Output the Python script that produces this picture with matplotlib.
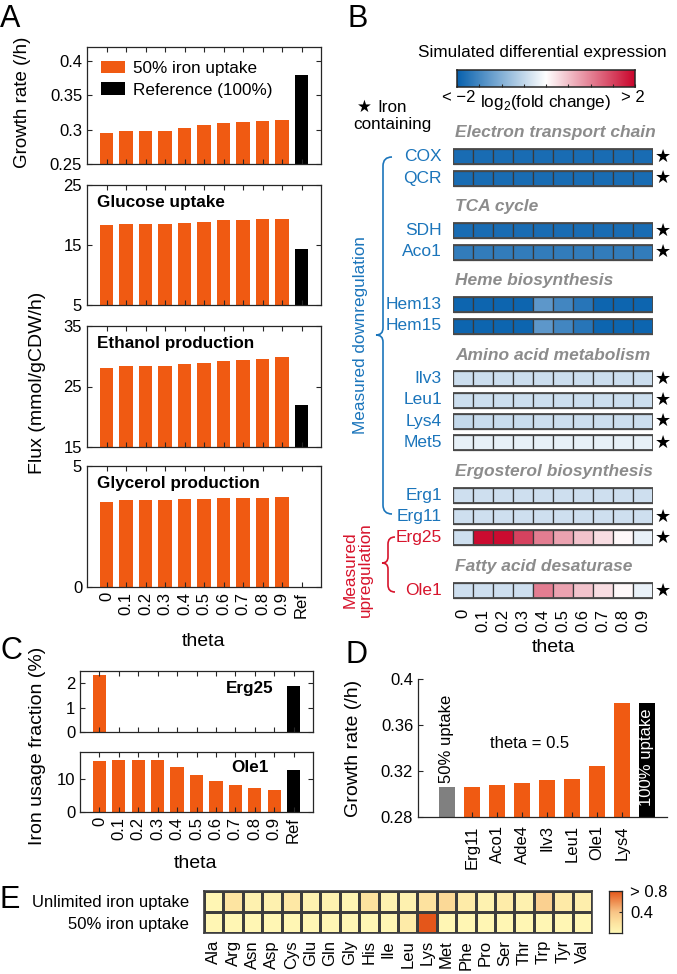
import numpy as np
import matplotlib
matplotlib.use('Agg')
import matplotlib.pyplot as plt
from matplotlib.patches import Rectangle, PathPatch
from matplotlib.path import Path
from matplotlib.colors import LinearSegmentedColormap

plt.rcParams['font.family'] = ['Liberation Sans', 'DejaVu Sans']
plt.rcParams['font.size'] = 12
plt.rcParams['mathtext.fontset'] = 'custom'
plt.rcParams['mathtext.rm'] = 'Liberation Sans'

# ---------------- data ----------------
theta_labels = ['0', '0.1', '0.2', '0.3', '0.4', '0.5', '0.6', '0.7', '0.8', '0.9']
bar_labels = theta_labels + ['Ref']

growth_50 = [0.295, 0.298, 0.298, 0.298, 0.302, 0.306, 0.309, 0.311, 0.312, 0.314]
growth_ref = 0.379
glucose_50 = [18.3, 18.5, 18.5, 18.5, 18.7, 18.9, 19.1, 19.2, 19.3, 19.4]
glucose_ref = 14.3
ethanol_50 = [28.1, 28.4, 28.4, 28.4, 28.7, 28.9, 29.2, 29.4, 29.6, 29.8]
ethanol_ref = 22.0
glycerol_50 = [3.53, 3.58, 3.58, 3.58, 3.62, 3.63, 3.66, 3.68, 3.69, 3.71]
glycerol_ref = 0.0

# Panel B: simulated log2 fold change per theta
b_groups = ['Electron transport chain', 'TCA cycle', 'Heme biosynthesis',
            'Amino acid metabolism', 'Ergosterol biosynthesis', 'Fatty acid desaturase']
b_genes = [['COX', 'QCR'], ['SDH', 'Aco1'], ['Hem13', 'Hem15'],
           ['Ilv3', 'Leu1', 'Lys4', 'Met5'], ['Erg1', 'Erg11', 'Erg25'], ['Ole1']]
b_iron = {'COX', 'QCR', 'SDH', 'Aco1', 'Ilv3', 'Leu1', 'Lys4', 'Met5', 'Erg11', 'Erg25', 'Ole1'}
b_up = {'Erg25', 'Ole1'}
b_fc = {
    'COX':   [-1.85] * 10,
    'QCR':   [-1.85] * 10,
    'SDH':   [-1.85] * 10,
    'Aco1':  [-1.65] * 10,
    'Hem13': [-1.95, -1.95, -1.95, -1.95, -1.3, -1.53, -1.74, -1.95, -1.95, -1.95],
    'Hem15': [-1.95, -1.95, -1.95, -1.95, -1.3, -1.53, -1.74, -1.95, -1.95, -1.95],
    'Ilv3':  [-0.42] * 10,
    'Leu1':  [-0.42] * 10,
    'Lys4':  [-0.48, -0.44, -0.44, -0.44, -0.42, -0.42, -0.42, -0.42, -0.42, -0.42],
    'Met5':  [-0.19] * 10,
    'Erg1':  [-0.4] * 10,
    'Erg11': [-0.4] * 10,
    'Erg25': [-0.4, 1.95, 1.95, 1.5, 1.04, 0.74, 0.47, 0.27, 0.06, -0.18],
    'Ole1':  [-0.4, -0.4, -0.4, -0.4, 1.04, 0.74, 0.47, 0.27, 0.05, -0.18],
}

# Panel C: iron usage fraction (%)
erg25_50 = [2.33, 0, 0, 0, 0, 0, 0, 0, 0, 0]
erg25_ref = 1.89
ole1_50 = [15.3, 15.6, 15.6, 15.6, 13.4, 11.0, 9.3, 8.1, 7.3, 6.5]
ole1_ref = 12.5

# Panel D
d_labels = ['50% uptake', 'Erg11', 'Aco1', 'Ade4', 'Ilv3', 'Leu1', 'Ole1', 'Lys4', '100% uptake']
d_values = [0.306, 0.3065, 0.3075, 0.3095, 0.312, 0.313, 0.324, 0.379, 0.379]

# Panel E
aa_labels = ['Ala', 'Arg', 'Asn', 'Asp', 'Cys', 'Glu', 'Gln', 'Gly', 'His', 'Ile',
             'Leu', 'Lys', 'Met', 'Phe', 'Pro', 'Ser', 'Thr', 'Trp', 'Tyr', 'Val']
e_rows = ['Unlimited iron uptake', '50% iron uptake']
e_unlimited = [0.02, 0.18, 0.06, 0.06, 0.15, 0.05, 0.05, 0.03, 0.2, 0.05,
               0.06, 0.2, 0.26, 0.12, 0.05, 0.11, 0.06, 0.32, 0.13, 0.09]
e_half = [0.02, 0.02, 0.02, 0.02, 0.02, 0.02, 0.02, 0.02, 0.02, 0.02,
          0.12, 0.85, 0.02, 0.02, 0.02, 0.02, 0.02, 0.02, 0.02, 0.02]

# ---------------- style ----------------
ORANGE = '#F05A12'
BLUE_T = '#1B75BB'
RED_T = '#D7142C'
GRAY_H = '#8C8C8C'
AX_C = '#262626'

W, H = 677, 974
fig = plt.figure(figsize=(W / 100, H / 100), dpi=100)


def add_ax(l, t, r, b):
    return fig.add_axes([l / W, 1 - b / H, (r - l) / W, (b - t) / H])


def matlab_box(ax):
    for s in ax.spines.values():
        s.set_linewidth(0.9)
        s.set_color(AX_C)
    ax.tick_params(direction='in', top=True, right=True, length=3.5, width=0.8,
                   colors=AX_C, labelcolor='black', labelsize=12)


def fmt(v):
    return f'{v:g}'


# ---------------- Panel A ----------------
xpos = np.arange(1, 12)
a_specs = [
    ((87, 47, 321, 164), growth_50, growth_ref, (0.25, 0.42), [0.25, 0.3, 0.35, 0.4], None),
    ((87, 185, 321, 305), glucose_50, glucose_ref, (5, 25), [5, 15, 25], 'Glucose uptake'),
    ((87, 326, 321, 447), ethanol_50, ethanol_ref, (15, 35), [15, 25, 35], 'Ethanol production'),
    ((87, 466, 321, 587), glycerol_50, glycerol_ref, (0, 5), [0, 5], 'Glycerol production'),
]
for i, (box, vals, ref, ylim, yt, title) in enumerate(a_specs):
    ax = add_ax(*box)
    b1 = ax.bar(xpos[:10], vals, width=0.68, color=ORANGE, label='50% iron uptake')
    b2 = ax.bar(xpos[10], ref, width=0.68, color='black', label='Reference (100%)')
    ax.set_xlim(0, 12)
    ax.set_ylim(*ylim)
    ax.set_yticks(yt)
    ax.set_yticklabels([fmt(v) for v in yt])
    ax.set_xticks(xpos)
    matlab_box(ax)
    if i == 3:
        ax.set_xticklabels(bar_labels, rotation=90)
    else:
        ax.set_xticklabels([])
    if title:
        ax.text(0.043, 0.855, title, transform=ax.transAxes, weight='bold',
                fontsize=12.3, va='center', ha='left')
    if i == 0:
        ax.legend(handles=[b1, b2], loc='upper left', frameon=False, fontsize=12.3,
                  handlelength=1.4, handleheight=0.75, handletextpad=0.5,
                  labelspacing=0.38, borderaxespad=0.45, borderpad=0.35)

# ---------------- Panel B ----------------
cmap_b = LinearSegmentedColormap.from_list(
    'bwr_m', [(0.0, (0.03, 0.38, 0.68)), (0.5, (1, 1, 1)), (1.0, (0.79, 0.02, 0.17))])
axb = add_ax(453, 125, 653, 605)
axb.set_xlim(0, 10)
axb.set_ylim(605, 125)
axb.axis('off')
cell_h = 15
cur = 133.0
for gname, genes in zip(b_groups, b_genes):
    axb.text(0.1, cur, gname, color=GRAY_H, weight='bold', style='italic',
             fontsize=12.5, ha='left', va='center')
    y = cur + 23.7
    for g in genes:
        vals = b_fc[g]
        for j, v in enumerate(vals):
            axb.add_patch(Rectangle((j, y - cell_h / 2), 1, cell_h,
                                    facecolor=cmap_b((v + 2) / 4), edgecolor='#3a3a3a',
                                    linewidth=0.9))
        axb.add_patch(Rectangle((0, y - cell_h / 2), 10, cell_h, fill=False,
                                edgecolor='#4a4a4a', linewidth=1.3))
        axb.text(-0.55, y, g, color=RED_T if g in b_up else BLUE_T,
                 fontsize=12.5, ha='right', va='center')
        if g in b_iron:
            axb.text(10.5, y, '★', fontsize=13, ha='center', va='center',
                     family='DejaVu Sans')
        last = y
        y += 21.3
    cur = last + 29.0
for j, lab in enumerate(theta_labels):
    axb.text(j + 0.5, 609, lab, rotation=90, ha='center', va='top', fontsize=12)

# colorbar B
cbb = add_ax(457, 70, 635, 87)
grad = np.linspace(-2, 2, 256).reshape(1, -1)
cbb.imshow(grad, cmap=cmap_b, vmin=-2, vmax=2, aspect='auto', extent=(-2, 2, 0, 1))
cbb.set_yticks([])
cbb.set_xticks(np.arange(-2, 2.01, 0.5))
cbb.set_xticklabels([])
cbb.tick_params(axis='x', direction='in', length=2.5, width=0.8, colors=AX_C)
for s in cbb.spines.values():
    s.set_linewidth(1.1)
    s.set_color(AX_C)

# ---------------- Panel C ----------------
axc1 = add_ax(80, 671, 313, 732)
axc1.bar(xpos[:10], erg25_50, width=0.68, color=ORANGE)
axc1.bar(xpos[10], erg25_ref, width=0.68, color='black')
axc1.set_xlim(0, 12)
axc1.set_ylim(0, 2.5)
axc1.set_yticks([0, 1, 2])
axc1.set_xticks(xpos)
axc1.set_xticklabels([])
matlab_box(axc1)
axc1.text(0.83, 0.72, 'Erg25', transform=axc1.transAxes, weight='bold',
          fontsize=12.3, ha='right', va='center')

axc2 = add_ax(80, 752, 313, 812)
axc2.bar(xpos[:10], ole1_50, width=0.68, color=ORANGE)
axc2.bar(xpos[10], ole1_ref, width=0.68, color='black')
axc2.set_xlim(0, 12)
axc2.set_ylim(0, 18)
axc2.set_yticks([0, 10])
axc2.set_xticks(xpos)
matlab_box(axc2)
axc2.set_xticklabels(bar_labels, rotation=90)
axc2.text(0.81, 0.75, 'Ole1', transform=axc2.transAxes, weight='bold',
          fontsize=12.3, ha='right', va='center')

# ---------------- Panel D ----------------
axd = add_ax(418, 679, 667, 817)
dpos = np.arange(1, len(d_values) + 1)
dcolors = ['#808080'] + [ORANGE] * 7 + ['black']
axd.bar(dpos, d_values, width=0.64, color=dcolors)
axd.set_xlim(-0.16, 9.8)
axd.set_ylim(0.28, 0.4)
yt = [0.28, 0.32, 0.36, 0.4]
axd.set_yticks(yt)
axd.set_yticklabels([fmt(v) for v in yt])
axd.set_xticks(dpos[1:-1])
axd.set_xticklabels(d_labels[1:-1], rotation=90)
axd.spines['top'].set_visible(False)
axd.spines['right'].set_visible(False)
for s in ['left', 'bottom']:
    axd.spines[s].set_linewidth(0.9)
    axd.spines[s].set_color(AX_C)
axd.tick_params(direction='in', length=3.5, width=0.8, colors=AX_C,
                labelcolor='black', labelsize=12)
axd.tick_params(axis='x', pad=6)
axd.annotate(d_labels[0], (dpos[0], d_values[0]), xytext=(0, 3), textcoords='offset points',
             rotation=90, ha='center', va='bottom', fontsize=12)
axd.annotate(d_labels[-1], (dpos[-1], d_values[-1]), xytext=(0, -4), textcoords='offset points',
             rotation=90, ha='center', va='top', fontsize=12, color='white')
axd.text(4.3, 0.3435, 'theta = 0.5', ha='center', va='center', fontsize=12)

# ---------------- Panel E ----------------
cmap_e = LinearSegmentedColormap.from_list(
    'ylor', [(0.0, '#FFF8B6'), (0.25, '#FDE29F'), (0.5, '#F8C486'), (1.0, '#E4561A')])
axe = add_ax(204, 891, 592, 933)
edata = np.array([e_unlimited, e_half])
axe.pcolormesh(np.arange(21), np.arange(3), edata, cmap=cmap_e, vmin=0, vmax=0.8,
               edgecolors='#3d3d3d', linewidth=0.9)
axe.set_xlim(0, 20)
axe.set_ylim(2, 0)
axe.set_xticks(np.arange(20) + 0.5)
axe.set_xticklabels(aa_labels, rotation=90, fontsize=12)
axe.set_yticks([0.5, 1.5])
axe.set_yticklabels(e_rows, fontsize=12)
axe.tick_params(length=0, pad=5)
axe.tick_params(axis='y', pad=11)
for s in axe.spines.values():
    s.set_linewidth(1.2)
    s.set_color('#3d3d3d')

cbe = add_ax(609, 891, 622, 933)
cbe.imshow(np.linspace(0, 0.8, 256).reshape(-1, 1), cmap=cmap_e, vmin=0, vmax=0.8,
           aspect='auto', origin='lower', extent=(0, 1, 0, 0.8))
cbe.set_xticks([])
cbe.yaxis.tick_right()
cbe.set_yticks([0.4, 0.8])
cbe.set_yticklabels(['0.4', '> 0.8'])
cbe.tick_params(axis='y', direction='in', length=2.5, width=0.8, colors=AX_C,
                labelcolor='black', labelsize=12, pad=6)
for s in cbe.spines.values():
    s.set_linewidth(0.9)
    s.set_color(AX_C)

# ---------------- overlay: labels, braces ----------------
ov = fig.add_axes([0, 0, 1, 1], zorder=10)
ov.set_xlim(0, W)
ov.set_ylim(H, 0)
ov.axis('off')
ov.patch.set_visible(False)

for letter, (x, y) in zip('ABCDE', [(0, 19), (347, 19), (0, 651), (346, 655), (0, 900)]):
    ov.text(x, y, letter, fontsize=22, ha='left', va='center')

ov.text(23, 102, 'Growth rate (/h)', rotation=90, ha='center', va='center', fontsize=13.5)
ov.text(38, 383, 'Flux (mmol/gCDW/h)', rotation=90, ha='center', va='center', fontsize=14)
ov.text(204, 641, 'theta', ha='center', va='center', fontsize=14)
ov.text(553, 648, 'theta', ha='center', va='center', fontsize=14)
ov.text(38, 746, 'Iron usage fraction (%)', rotation=90, ha='center', va='center', fontsize=14)
ov.text(196, 863, 'theta', ha='center', va='center', fontsize=14)
ov.text(354, 748, 'Growth rate (/h)', rotation=90, ha='center', va='center', fontsize=14)

ov.text(542, 53, 'Simulated differential expression', ha='center', va='center', fontsize=12.3)
ov.text(459, 98, '< −2', ha='center', va='center', fontsize=12)
ov.text(546, 103, r'log$_\mathregular{2}$(fold change)', ha='center', va='center', fontsize=12.3)
ov.text(633, 98, '> 2', ha='center', va='center', fontsize=12)
ov.text(357, 107, '★', ha='left', va='center', fontsize=12, family='DejaVu Sans')
ov.text(377, 107, 'Iron', ha='left', va='center', fontsize=12.3)
ov.text(353, 125, 'containing', ha='left', va='center', fontsize=12.3)

ov.text(360, 335, 'Measured downregulation', rotation=90, ha='center', va='center',
        fontsize=12.3, color=BLUE_T)
ov.text(358, 570, 'Measured\nupregulation', rotation=90, ha='center', va='center',
        fontsize=12.3, color=RED_T, linespacing=1.0)


def brace(x, y0, y1, ym, tip, hook, color):
    verts = [(x + hook, y0), (x, y0), (x, y0 + hook),
             (x, ym - tip), (x, ym), (x - tip, ym),
             (x, ym), (x, ym + tip),
             (x, y1 - hook), (x, y1), (x + hook, y1)]
    codes = [Path.MOVETO, Path.CURVE3, Path.CURVE3,
             Path.LINETO, Path.CURVE3, Path.CURVE3,
             Path.CURVE3, Path.CURVE3,
             Path.LINETO, Path.CURVE3, Path.CURVE3]
    ov.add_patch(PathPatch(Path(verts, codes), fill=False, edgecolor=color, linewidth=1.2))


brace(383, 157, 514, 335, 7, 9, BLUE_T)
brace(388, 537, 592, 563, 6, 7, RED_T)

fig.savefig('out.png', dpi=100)
